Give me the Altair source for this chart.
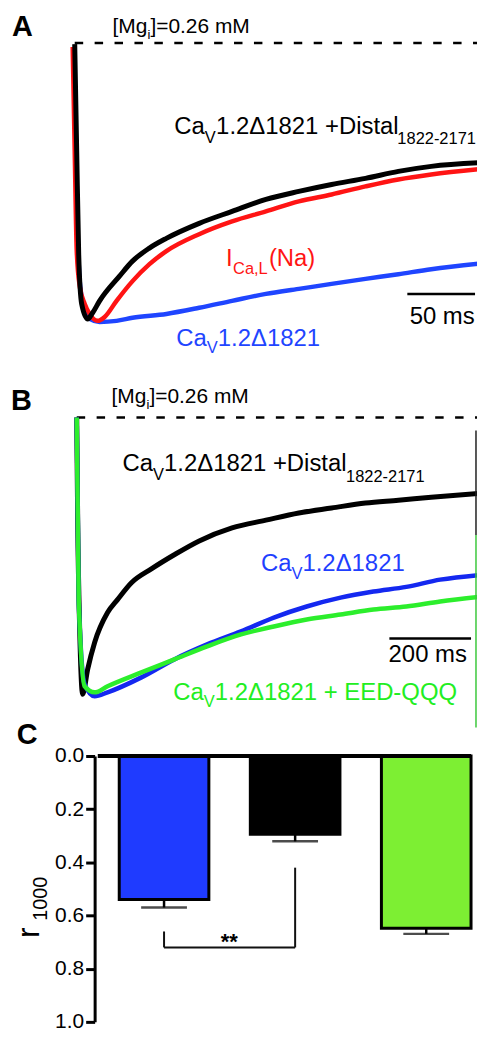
import altair as alt
import pandas as pd

FONT = "Liberation Sans"

# ---------------- Panel A traces (time in ms, normalized current) ----------------
a_black_t = [0, 1.47, 2.94, 5.15, 9.56, 13.24, 18.39, 33.09, 42.66, 55.16, 67.66, 91.93, 116.2, 141.2, 165.47, 189.74, 214.75, 239.02, 263.29, 303.0]
a_black_v = [-0.004, -0.391, -0.760, -0.939, -0.993, -0.971, -0.928, -0.839, -0.785, -0.738, -0.703, -0.649, -0.606, -0.563, -0.534, -0.509, -0.487, -0.462, -0.444, -0.430]
a_red_t = [-1.5, 0, 1.5, 3.7, 7.4, 11.0, 16.9, 22.1, 30.9, 42.7, 55.2, 67.7, 91.9, 116.2, 141.2, 165.5, 189.7, 214.7, 239.0, 263.3, 303.0]
a_red_v = [-0.014, -0.391, -0.749, -0.875, -0.939, -0.975, -1.0, -0.986, -0.928, -0.857, -0.796, -0.749, -0.688, -0.642, -0.606, -0.570, -0.545, -0.516, -0.491, -0.473, -0.452]
a_blue_t = [-0.7, 1.5, 3.7, 6.6, 11.0, 18.4, 30.9, 42.7, 67.7, 91.9, 116.2, 141.2, 165.5, 189.7, 214.7, 239.0, 263.3, 303.0]
a_blue_v = [-0.025, -0.570, -0.857, -0.946, -0.993, -1.004, -1.0, -0.989, -0.975, -0.953, -0.928, -0.903, -0.885, -0.867, -0.849, -0.832, -0.814, -0.792]

# ---------------- Panel B traces ----------------
b_black_t = [0, 2.4, 7.3, 14.6, 26.8, 43.9, 75.6, 100.0, 134.1, 182.9, 239.0, 300.0, 380.5, 463.4, 543.9, 624.4, 707.3, 787.8, 868.3, 997.6]
b_black_v = [0, -0.371, -0.766, -1.0, -0.910, -0.813, -0.705, -0.658, -0.597, -0.547, -0.496, -0.446, -0.399, -0.371, -0.345, -0.327, -0.309, -0.299, -0.288, -0.273]
b_blue_t = [0, 4.9, 19.5, 43.9, 75.6, 158.5, 239.0, 319.5, 402.4, 482.9, 563.4, 646.3, 726.8, 807.3, 890.2, 995.1]
b_blue_v = [0, -0.658, -0.964, -1.007, -0.993, -0.939, -0.874, -0.820, -0.773, -0.723, -0.683, -0.651, -0.629, -0.612, -0.586, -0.568]
b_green_t = [0, 4.9, 19.5, 43.9, 75.6, 158.5, 239.0, 319.5, 402.4, 482.9, 563.4, 646.3, 726.8, 807.3, 890.2, 995.1]
b_green_v = [0, -0.658, -0.971, -0.993, -0.971, -0.921, -0.874, -0.827, -0.784, -0.755, -0.730, -0.712, -0.694, -0.683, -0.665, -0.647]

# ---------------- Panel C bars ----------------
c_groups = ["CaV1.2Δ1821", "CaV1.2Δ1821 + Distal", "CaV1.2Δ1821 + EED-QQQ"]
c_pos = [1, 2, 3]
c_r1000 = [0.54, 0.294, 0.648]
c_sem = [0.030, 0.027, 0.021]
c_ticks = [0.0, 0.2, 0.4, 0.6, 0.8, 1.0]

# ---------------- scales ----------------
A_END = 297.1
B_END = 980.5
AX = alt.Scale(domain=[-49.27, A_END], nice=False, zero=False)
AY = alt.Scale(domain=[-1.1075, 0.1183], nice=False, zero=False)
BX = alt.Scale(domain=[-168.29, B_END], nice=False, zero=False)
BY = alt.Scale(domain=[-1.2230, 0.2410], nice=False, zero=False)
CX = alt.Scale(domain=[-0.15242, 3.34944], nice=False, zero=False)
CY = alt.Scale(domain=[0, 1], reverse=True, nice=False, zero=False)

C_AXIS = alt.Axis(values=c_ticks, format=".1f", offset=-87, domainColor="black", domainWidth=3,
                  tickColor="black", tickWidth=3, tickSize=9, labelFont=FONT, labelFontSize=21,
                  labelColor="black", labelPadding=2, grid=False, title=None)


def line(t, v, color, width, xs, ys):
    return alt.Chart(pd.DataFrame({"t": t, "v": v})).mark_line(
        color=color, strokeWidth=width, strokeJoin="round", interpolate="monotone", clip=True).encode(
        x=alt.X("t:Q", scale=xs, axis=None), y=alt.Y("v:Q", scale=ys, axis=None))


def seg(x1, x2, y1, y2, xs, ys, yaxis=None, **kw):
    df = pd.DataFrame({"x": [x1], "x2": [x2], "y": [y1], "y2": [y2]})
    return alt.Chart(df).mark_rule(**kw).encode(
        x=alt.X("x:Q", scale=xs, axis=None), x2="x2:Q",
        y=alt.Y("y:Q", scale=ys, axis=yaxis), y2="y2:Q")


def label(x, y, s, size, xs, ys, yaxis=None, color="black", bold=False, align="left", angle=0):
    df = pd.DataFrame({"x": [x], "y": [y], "s": [s]})
    return alt.Chart(df).mark_text(
        align=align, baseline="alphabetic", fontSize=size, font=FONT, color=color,
        fontWeight="bold" if bold else "normal", angle=angle).encode(
        x=alt.X("x:Q", scale=xs, axis=None), y=alt.Y("y:Q", scale=ys, axis=yaxis), text="s:N")


# ---------------- Panel A ----------------
A_BLUE = "#1f45ff"
A_RED = "#ff1414"
a_layers = [
    seg(0, A_END, 0, 0, AX, AY, color="black", strokeWidth=2.5, strokeDash=[8.5, 11.5]),
    line(a_blue_t, a_blue_v, A_BLUE, 4.5, AX, AY),
    line(a_red_t, a_red_v, A_RED, 4.5, AX, AY),
    line(a_black_t, a_black_v, "black", 5, AX, AY),
    seg(245.64, 295.64, -0.9032, -0.9032, AX, AY, color="black", strokeWidth=2.5),
    label(-46.33, 0.0251, "A", 29, AX, AY, bold=True),
    label(27.95, 0.0358, "[Mg", 21, AX, AY),
    label(53.69, 0.0143, "i", 13, AX, AY),
    label(55.89, 0.0358, "]=0.26 mM", 21, AX, AY),
    label(73.54, -0.3262, "Ca", 24, AX, AY),
    label(95.97, -0.3584, "V", 16.5, AX, AY),
    label(104.43, -0.3262, "1.2Δ1821 +Distal", 24, AX, AY),
    label(238.28, -0.3620, "1822-2171", 16.5, AX, AY),
    label(111.79, -0.8029, "I", 24, AX, AY, color=A_RED),
    label(116.94, -0.8315, "Ca,L", 16.5, AX, AY, color=A_RED),
    label(143.41, -0.8029, "(Na)", 24, AX, AY, color=A_RED),
    label(75.01, -1.0896, "Ca", 24, AX, AY, color=A_BLUE),
    label(97.59, -1.1147, "V", 16.5, AX, AY, color=A_BLUE),
    label(105.68, -1.0896, "1.2Δ1821", 24, AX, AY, color=A_BLUE),
    label(271.38, -1.0108, "50 ms", 24, AX, AY, align="center"),
]
panel_a = alt.layer(*a_layers).properties(width=471, height=342)

# ---------------- Panel B ----------------
B_BLUE = "#1428f0"
B_GREEN = "#2cee2c"
B_BLUE_TXT = "#1f3fff"
B_GREEN_TXT = "#22ee22"
b_layers = [
    seg(0, B_END, 0, 0, BX, BY, color="black", strokeWidth=2.5, strokeDash=[8.5, 11.5]),
    line(b_black_t, b_black_v, "black", 5, BX, BY),
    line(b_blue_t, b_blue_v, B_BLUE, 4.5, BX, BY),
    line(b_green_t, b_green_v, B_GREEN, 4.5, BX, BY),
    seg(978.0, 978.0, -0.047, -0.4245, BX, BY, color="#222222", strokeWidth=1.5),
    seg(978.0, 978.0, -0.4245, -1.12, BX, BY, color="#3cc83c", strokeWidth=1.5),
    seg(765.85, 965.85, -0.7986, -0.7986, BX, BY, color="black", strokeWidth=2.5),
    label(-160.98, 0.0252, "B", 29, BX, BY, bold=True),
    label(85.37, 0.0504, "[Mg", 21, BX, BY),
    label(170.73, 0.0288, "i", 13, BX, BY),
    label(178.05, 0.0504, "]=0.26 mM", 21, BX, BY),
    label(112.20, -0.1942, "Ca", 24, BX, BY),
    label(187.07, -0.2266, "V", 16.5, BX, BY),
    label(213.90, -0.1942, "1.2Δ1821 +Distal", 24, BX, BY),
    label(659.76, -0.2320, "1822-2171", 16.5, BX, BY),
    label(451.22, -0.5540, "Ca", 24, BX, BY, color=B_BLUE_TXT),
    label(525.98, -0.5827, "V", 16.5, BX, BY, color=B_BLUE_TXT),
    label(552.93, -0.5540, "1.2Δ1821", 24, BX, BY, color=B_BLUE_TXT),
    label(236.59, -1.0216, "Ca", 24, BX, BY, color=B_GREEN_TXT),
    label(311.46, -1.0468, "V", 16.5, BX, BY, color=B_GREEN_TXT),
    label(338.29, -1.0216, "1.2Δ1821 + EED-QQQ", 24, BX, BY, color=B_GREEN_TXT),
    label(859.76, -0.8849, "200 ms", 24, BX, BY, align="center"),
]
panel_b = alt.layer(*b_layers).properties(width=471, height=407)

# ---------------- Panel C ----------------
c_df = pd.DataFrame({"g": c_groups, "pos": c_pos, "r": c_r1000, "sem": c_sem})
c_df["hi"] = c_df["r"] + c_df["sem"]
bar_colors = ["#1f3bff", "#000000", "#7def33"]

bars = alt.Chart(c_df).mark_bar(size=90, stroke="black", strokeWidth=3, orient="vertical").encode(
    x=alt.X("pos:Q", scale=CX, axis=None),
    y=alt.Y("r:Q", scale=CY, axis=C_AXIS),
    y2=alt.datum(0),
    color=alt.Color("g:N", scale=alt.Scale(domain=c_groups, range=bar_colors), legend=None),
)
stems = alt.Chart(c_df).mark_rule(color="black", strokeWidth=2.5).encode(
    x=alt.X("pos:Q", scale=CX, axis=None),
    y=alt.Y("r:Q", scale=CY, axis=C_AXIS), y2="hi:Q")
caps = alt.Chart(c_df).mark_tick(orient="horizontal", size=46, thickness=2.5, color="black").encode(
    x=alt.X("pos:Q", scale=CX, axis=None),
    y=alt.Y("hi:Q", scale=CY, axis=C_AXIS))

c_layers = [
    bars, stems, caps,
    seg(0.4944, 3.3420, 0, 0, CX, CY, yaxis=C_AXIS, color="black", strokeWidth=4),
    seg(1, 1, 0.66, 0.72, CX, CY, yaxis=C_AXIS, color="#111111", strokeWidth=2),
    seg(1, 2, 0.72, 0.72, CX, CY, yaxis=C_AXIS, color="#111111", strokeWidth=2),
    seg(2, 2, 0.42, 0.72, CX, CY, yaxis=C_AXIS, color="#111111", strokeWidth=2),
    label(1.4981, 0.726, "**", 22, CX, CY, yaxis=C_AXIS, bold=True, align="center"),
    label(-0.1227, -0.045, "C", 29, CX, CY, yaxis=C_AXIS, bold=True),
    label(0.0483, 0.685, "r", 32, CX, CY, yaxis=C_AXIS, angle=270),
    label(0.1078, 0.620, "1000", 20, CX, CY, yaxis=C_AXIS, angle=270),
]
panel_c = alt.layer(*c_layers).properties(width=471, height=267)

chart = alt.vconcat(panel_a, panel_b, panel_c, spacing=0, bounds="flush").properties(
    padding=0).configure_view(stroke=None)

chart.save("out.html", embed_options={"renderer": "svg", "actions": False})
